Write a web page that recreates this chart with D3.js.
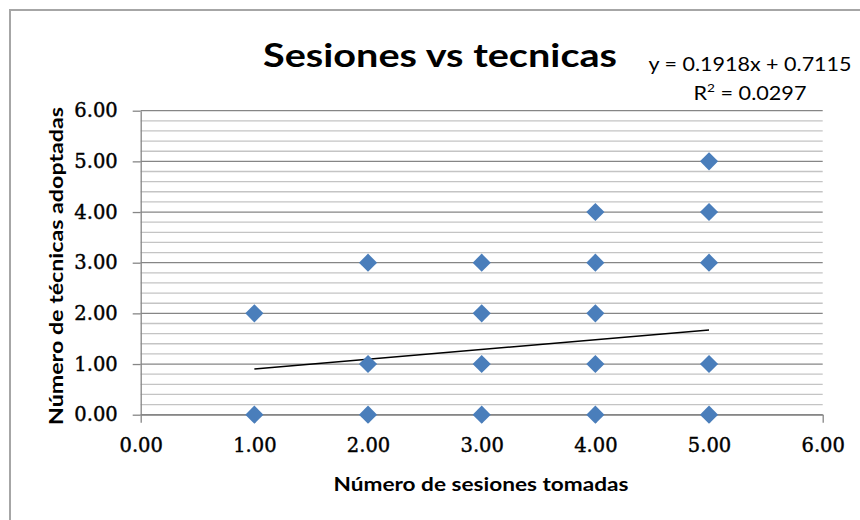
<!DOCTYPE html>
<html>
<head>
<meta charset="utf-8">
<script src="https://cdn.jsdelivr.net/npm/d3@7"></script>
<style>
  body { margin: 0; background: #fff; }
  svg text { fill: #000; }
</style>
</head>
<body>
<svg id="chart" width="860" height="520"></svg>
<script>
// Sessions attended vs. techniques adopted, one point per respondent
const sesiones = [1, 1, 2, 2, 2, 3, 3, 3, 3, 4, 4, 4, 4, 4, 5, 5, 5, 5, 5];
const tecnicas = [2, 0, 3, 1, 0, 3, 2, 1, 0, 4, 3, 2, 1, 0, 5, 4, 3, 1, 0];
const xTicks = [0, 1, 2, 3, 4, 5, 6];
const yTicks = [0, 1, 2, 3, 4, 5, 6];
// Linear trendline fitted over the data
const trendSlope = 0.1918;
const trendIntercept = 0.7115;
const rSquared = 0.0297;
const trendRange = [1, 5];

const svg = d3.select("#chart");
const W = 860, H = 520;

// chart frame
svg.append("rect")
  .attr("x", 10).attr("y", 10)
  .attr("width", W).attr("height", H)
  .attr("fill", "#fff")
  .attr("stroke", "#a6a6a6")
  .attr("stroke-width", 2);

const x = d3.scaleLinear().domain([0, 6]).range([140.7, 822.7]);
const y = d3.scaleLinear().domain([0, 6]).range([414.7, 110.7]);

// minor gridlines every 0.2, major on whole units
const minor = d3.range(1, 30).map(i => i * 0.2).filter((v, i) => (i + 1) % 5 !== 0);
svg.append("g").selectAll("line").data(minor).join("line")
  .attr("x1", x(0)).attr("x2", x(6))
  .attr("y1", d => y(d)).attr("y2", d => y(d))
  .attr("stroke", "#c4c4c4").attr("stroke-width", 1.3);
svg.append("g").selectAll("line").data(yTicks).join("line")
  .attr("x1", x(0)).attr("x2", x(6))
  .attr("y1", d => y(d)).attr("y2", d => y(d))
  .attr("stroke", "#868686").attr("stroke-width", 1.3);

const fmt = d3.format(".2f");
const tickFont = "'DejaVu Serif', serif";

const yAxis = svg.append("g")
  .attr("transform", `translate(${x(0)},0)`)
  .call(d3.axisLeft(y).tickValues(yTicks).tickFormat(fmt).tickSize(8).tickSizeOuter(0).tickPadding(15));
const xAxis = svg.append("g")
  .attr("transform", `translate(0,${y(0)})`)
  .call(d3.axisBottom(x).tickValues(xTicks).tickFormat(fmt).tickSize(8).tickSizeOuter(0).tickPadding(15));

[xAxis, yAxis].forEach(g => {
  g.select(".domain").attr("stroke", "#868686").attr("stroke-width", 1.3);
  g.selectAll(".tick line").attr("stroke", "#868686").attr("stroke-width", 1.3);
  g.selectAll(".tick text")
    .attr("font-family", tickFont)
    .attr("font-size", 19.5)
    .attr("fill", "#000")
    .attr("stroke", "#000")
    .attr("stroke-width", 0.4);
});

// trendline
svg.append("line")
  .attr("x1", x(trendRange[0])).attr("y1", y(trendSlope * trendRange[0] + trendIntercept))
  .attr("x2", x(trendRange[1])).attr("y2", y(trendSlope * trendRange[1] + trendIntercept))
  .attr("stroke", "#000").attr("stroke-width", 1.5);

// diamond markers
const diamond = d3.symbol().type(d3.symbolSquare).size(165);
svg.append("g").selectAll("path").data(sesiones.map((s, i) => [s, tecnicas[i]])).join("path")
  .attr("d", diamond)
  .attr("transform", d => `translate(${x(d[0])},${y(d[1])}) rotate(45)`)
  .attr("fill", "#4a7ebb");

const sans = "Lato, 'Open Sans', sans-serif";

// title
svg.append("text")
  .attr("x", 440).attr("y", 67)
  .attr("text-anchor", "middle")
  .attr("font-family", sans).attr("font-weight", "bold").attr("font-size", 33)
  .attr("textLength", 354).attr("lengthAdjust", "spacingAndGlyphs")
  .text("Sesiones vs tecnicas");

// trendline equation
const eq = svg.append("g").attr("font-family", sans).attr("font-size", 19);
eq.append("text")
  .attr("x", 750).attr("y", 71).attr("text-anchor", "middle")
  .attr("textLength", 203).attr("lengthAdjust", "spacingAndGlyphs")
  .text(`y = ${trendSlope}x + ${trendIntercept}`);
const r2 = eq.append("text")
  .attr("x", 750).attr("y", 100).attr("text-anchor", "middle")
  .attr("textLength", 113).attr("lengthAdjust", "spacingAndGlyphs");
r2.append("tspan").text("R");
r2.append("tspan").attr("font-size", 12).attr("dy", -8).text("2");
r2.append("tspan").attr("dy", 8).text(` = ${rSquared}`);

// axis titles
svg.append("text")
  .attr("x", 481).attr("y", 491)
  .attr("text-anchor", "middle")
  .attr("font-family", sans).attr("font-weight", "bold").attr("font-size", 19)
  .attr("textLength", 295).attr("lengthAdjust", "spacingAndGlyphs")
  .text("Número de sesiones tomadas");

svg.append("text")
  .attr("transform", "translate(63,266) rotate(-90)")
  .attr("text-anchor", "middle")
  .attr("font-family", sans).attr("font-weight", "bold").attr("font-size", 19)
  .attr("textLength", 318).attr("lengthAdjust", "spacingAndGlyphs")
  .text("Número de técnicas adoptadas");
</script>
</body>
</html>
